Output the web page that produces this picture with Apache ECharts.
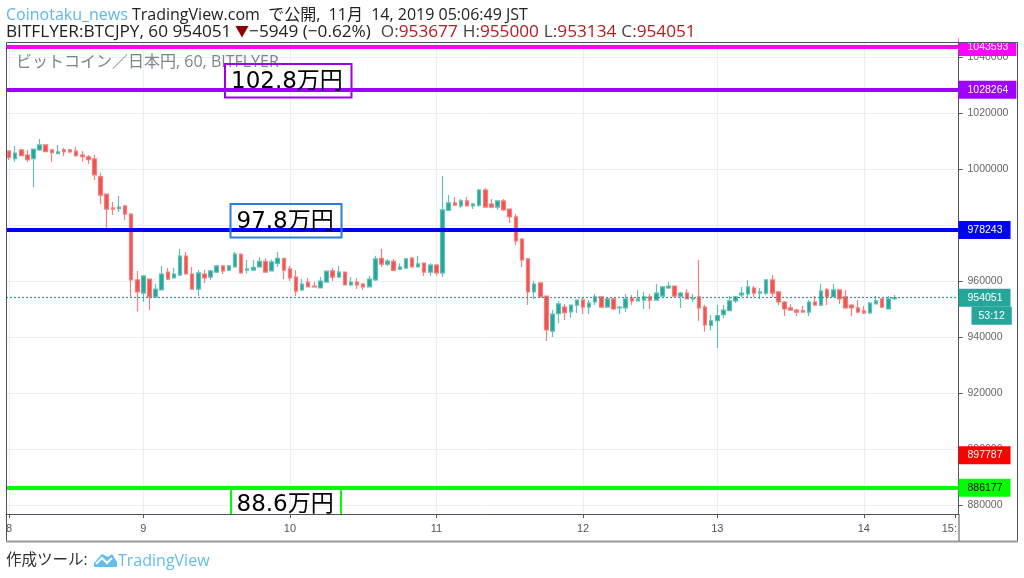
<!DOCTYPE html>
<html><head><meta charset="utf-8">
<style>html,body{margin:0;padding:0;background:#fff}#c{width:1024px;height:578px}</style>
<script src="https://cdn.jsdelivr.net/npm/echarts@6/dist/echarts.min.js"></script></head>
<body><div id="c"></div>
<script>
// open, close, low, high in thousand yen, one row per hour
const candles = [
[1006.4,1004.1,1003.2,1006.8],[1003.7,1005.7,1002.6,1008.2],[1006.8,1004.8,1004.6,1007.1],[1005.0,1003.3,1002.4,1006.8],
[1003.7,1007.1,993.5,1007.1],[1006.8,1008.6,1006.4,1010.7],[1008.6,1006.2,1006.1,1008.6],[1006.8,1005.8,1002.6,1006.8],
[1005.5,1006.1,1005.4,1008.6],[1006.8,1006.2,1004.6,1007.5],[1006.8,1006.1,1005.6,1007.1],[1006.4,1004.8,1004.3,1007.9],
[1005.0,1004.4,1002.6,1006.4],[1004.3,1003.3,1001.9,1005.0],[1003.6,997.9,996.1,1005.0],[997.3,990.7,987.5,998.7],
[991.0,985.7,978.9,991.0],[986.1,985.7,983.6,988.2],[985.8,986.4,984.6,990.4],[986.8,983.9,981.8,987.1],
[983.9,960.4,954.4,984.3],[960.4,956.1,949.1,963.6],[955.7,961.8,952.5,961.8],[960.7,954.3,949.6,960.7],
[954.3,957.1,954.3,958.9],[956.8,962.5,956.8,965.4],[963.2,960.7,960.4,964.6],[961.1,962.5,961.1,964.6],
[962.1,968.9,962.1,971.4],[968.9,962.5,962.5,970.4],[962.5,957.1,957.1,965.0],[957.1,962.9,954.6,963.9],
[962.5,961.1,959.3,963.9],[961.4,963.6,960.4,963.9],[963.2,965.4,962.9,965.7],[965.4,963.6,962.5,965.4],
[963.9,965.4,963.6,965.7],[965.0,969.6,964.8,970.4],[969.5,962.9,962.6,969.9],[963.9,964.3,962.7,967.5],
[963.9,964.9,963.9,967.5],[965.0,967.0,964.9,968.5],[967.0,963.2,963.2,968.1],[963.6,966.8,963.6,967.7],
[966.3,968.1,965.0,970.4],[968.1,963.9,960.7,968.1],[964.3,961.1,960.0,965.4],[961.4,956.4,954.6,963.9],
[956.8,958.9,956.4,960.7],[959.6,957.9,957.9,961.1],[958.2,957.9,957.9,959.6],[957.5,960.0,957.5,961.4],
[959.6,963.5,959.5,963.6],[963.6,961.4,960.0,964.6],[961.4,963.2,961.4,965.4],[963.2,958.6,958.5,963.3],
[958.6,959.6,958.2,961.4],[959.6,958.6,957.1,961.1],[958.9,957.9,956.8,959.3],[957.9,960.7,957.9,961.8],
[960.4,967.9,960.0,968.9],[968.1,966.0,965.0,971.4],[966.0,967.1,965.4,967.9],[967.0,963.8,963.6,967.9],
[964.2,965.0,963.9,966.3],[964.6,967.9,964.6,968.2],[968.2,965.0,964.9,968.6],[965.0,966.1,965.0,968.9],
[966.4,963.2,961.8,966.4],[963.2,965.7,961.8,966.3],[965.7,962.9,962.0,966.1],[962.9,985.4,961.4,997.5],
[985.2,987.9,985.0,990.7],[987.9,987.1,986.8,990.0],[986.8,988.6,986.1,989.3],[988.6,986.8,986.8,990.0],
[986.8,987.5,985.7,987.9],[987.1,992.5,986.4,992.9],[992.5,986.4,986.2,993.2],[987.5,986.4,986.0,989.3],
[986.4,988.6,985.4,988.6],[988.6,985.4,985.0,989.3],[985.7,982.9,980.7,985.7],[982.9,974.3,972.9,983.9],
[975.0,967.5,965.0,975.4],[967.9,956.1,951.4,968.2],[956.1,958.9,953.6,960.0],[959.3,954.3,954.2,959.4],
[954.6,942.5,938.6,954.6],[942.1,948.2,940.0,949.6],[948.3,951.8,944.9,952.9],[950.7,948.7,946.1,951.8],
[949.0,951.4,946.9,951.4],[951.4,953.2,948.6,953.2],[953.2,950.7,948.2,954.3],[950.7,952.1,948.2,953.2],
[952.5,954.3,951.4,955.4],[954.3,950.7,950.4,954.6],[950.7,953.6,950.7,953.9],[953.6,950.0,949.6,953.9],
[950.4,950.7,948.2,951.1],[950.4,953.6,948.9,955.4],[953.9,952.9,951.4,955.0],[952.9,953.6,952.9,956.8],
[953.2,954.3,950.0,956.1],[954.3,953.2,950.0,955.4],[953.2,955.7,953.2,958.9],[954.6,957.9,954.6,958.2],
[957.5,958.2,957.1,959.6],[958.2,954.6,954.6,958.3],[954.6,955.7,950.4,956.1],[955.7,953.6,953.6,957.1],
[953.6,953.9,952.5,955.4],[954.3,950.4,945.8,967.5],[950.7,944.3,941.9,951.4],[944.1,945.8,942.4,947.9],
[945.8,947.6,936.1,951.4],[948.0,949.6,946.8,951.4],[949.4,952.9,949.4,954.6],[952.9,954.3,952.1,954.6],
[955.0,955.7,954.3,957.9],[955.4,957.9,954.3,960.4],[957.5,955.7,954.3,958.2],[955.7,956.1,953.6,957.5],
[955.7,960.4,955.0,960.4],[960.4,955.7,954.3,962.1],[956.1,952.5,951.4,956.4],[952.5,950.0,947.5,952.9],
[950.4,949.6,949.6,951.8],[949.6,948.9,947.5,950.0],[949.4,948.9,948.9,951.1],[948.9,952.5,947.5,953.2],
[952.5,951.4,951.4,954.6],[951.4,956.4,951.1,958.9],[956.8,954.3,951.4,957.5],[954.3,956.8,954.3,958.9],
[956.8,953.6,951.8,956.8],[954.3,950.4,950.0,956.8],[951.4,950.4,947.5,951.8],[950.4,948.9,948.9,953.2],
[949.3,948.6,948.2,951.1],[948.6,952.1,948.2,952.5],[951.8,952.9,951.8,954.6],[953.6,950.7,950.4,953.6],
[950.0,953.6,950.0,954.6],[953.677,954.051,953.134,955.0]
];
const dayLabels = ['8','9','10','11','12','13','14','15:'];
const dayLabelIndex = [0,22,46,70,94,116,140,154];
const dayTickIndex = [0,22,46,70,94,116,140,155];
const barCount = 156;
const priceTicks = [880000,900000,920000,940000,960000,980000,1000000,1020000,1040000];
const priceLabels = [880000,900000,920000,940000,960000,1000000,1020000,1040000];
const levelValues = [1043593,1028264,978243,897787,886177];
const levelColors = ['#ff00ff','#a000ff','#0000ff','#ff0000','#00ff00'];
const levelTextColors = ['#ffffff','#ffffff','#ffffff','#ffffff','#000000'];
const levelLineWidths = [4,4,4,0,4];
const lastPrice = 954051;
const countdown = '53:12';
const notes = ['102.8万円','97.8万円','88.6万円'];

const categories = Array.from({length: barCount}, (_, i) => {
  const k = dayLabelIndex.indexOf(i);
  return k >= 0 ? dayLabels[k] : String(i);
});
const seriesData = candles.map(r => r.map(v => v * 1000));
const UP = '#26a69a', DOWN = '#ef5350';
const SANS = '"Open Sans", "Noto Sans CJK JP", sans-serif';
const AX = '"Liberation Sans", sans-serif';
const NOTE = '"DejaVu Sans", "Noto Sans CJK JP", sans-serif';
const GRID = '#e8eff5', DARK = '#50535e';
const N = 'normal';

function axisLabelBox(val, bg, fg, extra) {
  return Object.assign({
    show: true, position: 'end', distance: 0, formatter: String(val),
    backgroundColor: bg, color: fg, fontFamily: AX, fontSize: 10.5,
    padding: [3, 8, 3, 9], lineHeight: 12
  }, extra || {});
}
const levelLines = levelValues.map((v, i) => ({
  yAxis: v,
  lineStyle: {color: levelLineWidths[i] ? levelColors[i] : 'rgba(0,0,0,0)', width: levelLineWidths[i], type: 'solid', opacity: 1},
  label: axisLabelBox(v, levelColors[i], levelTextColors[i])
}));
const lastLine = {
  yAxis: lastPrice,
  lineStyle: {color: '#1f9e92', width: 1.2, type: [2, 2], opacity: 1},
  label: axisLabelBox(lastPrice, UP, '#fff')
};
const countdownLine = {
  yAxis: lastPrice,
  lineStyle: {color: 'rgba(0,0,0,0)', width: 0, opacity: 1},
  label: axisLabelBox(countdown, UP, '#fff', {offset: [13, 18], padding: [3, 7, 3, 7]})
};

const option = {
  animation: false,
  backgroundColor: '#fff',
  grid: {left: 6, right: 65.5, top: 42, bottom: 64, containLabel: false},
  title: [
    {left: 6, top: 7, padding: 0, text: '{a|Coinotaku_news}{b| TradingView.com  で公開,  11月  14, 2019 05:06:49 JST}',
     textStyle: {fontWeight: N, rich: {a: {fontFamily: SANS, fontSize: 16, fontWeight: N, color: '#5bb8e8'}, b: {fontFamily: SANS, fontSize: 16, fontWeight: N, color: '#222'}}}},
    {left: 6, top: 23, padding: 0, text: '{b|BITFLYER:BTCJPY, 60 954051}{t| ▼}{b|−5949 (−0.62%)}  {g|O:}{r|953677} {g|H:}{r|955000} {g|L:}{r|953134} {g|C:}{r|954051}',
     textStyle: {fontWeight: N, rich: {b: {fontFamily: SANS, fontSize: 17.2, fontWeight: N, color: '#222'}, t: {fontFamily: SANS, fontSize: 14, fontWeight: N, color: '#8b0000'},
       g: {fontFamily: SANS, fontSize: 17.2, fontWeight: N, color: '#444'}, r: {fontFamily: SANS, fontSize: 17.2, fontWeight: N, color: '#b71c1c'}}}},
    {left: 16, top: 54, padding: 0, text: 'ビットコイン／日本円, 60, BITFLYER',
     textStyle: {fontFamily: SANS, fontSize: 16, fontWeight: N, color: '#7d848c'}},
    {left: 6, top: 553, padding: 0, text: '作成ツール:',
     textStyle: {fontFamily: SANS, fontSize: 15.5, fontWeight: N, color: '#333'}},
    {left: 118, top: 553, padding: 0, text: 'TradingView',
     textStyle: {fontFamily: SANS, fontSize: 16, fontWeight: N, color: '#62bdec'}}
  ],
  xAxis: {
    type: 'category', data: categories, boundaryGap: true,
    axisLine: {show: true, lineStyle: {color: DARK, width: 1}},
    axisTick: {show: true, alignWithLabel: true, length: 4, lineStyle: {color: DARK},
      interval: i => dayTickIndex.includes(i)},
    axisLabel: {show: true, color: '#555', fontFamily: AX, fontSize: 11, margin: 9, hideOverlap: false,
      interval: i => dayLabelIndex.includes(i)},
    splitLine: {show: true, alignWithLabel: true, lineStyle: {color: GRID, width: 1},
      interval: i => dayTickIndex.includes(i) && i !== 155}
  },
  yAxis: {
    type: 'value', position: 'right', scale: true, min: 876786, max: 1045357,
    axisLine: {show: true, lineStyle: {color: DARK, width: 1}},
    axisTick: {show: true, length: 4, lineStyle: {color: DARK}, customValues: priceTicks},
    axisLabel: {show: true, color: '#666', fontFamily: AX, fontSize: 10.5, margin: 9, customValues: priceLabels,
      formatter: v => String(v), showMinLabel: true, showMaxLabel: true},
    splitLine: {show: true, lineStyle: {color: GRID, width: 1}}
  },
  series: [{
    type: 'candlestick', data: seriesData, barWidth: 4,
    itemStyle: {color: UP, color0: DOWN, borderColor: '#62bfb6', borderColor0: '#f47f7d', borderWidth: 1.2},
    markLine: {silent: true, symbol: 'none', animation: false, precision: 0,
      data: levelLines.concat([lastLine, countdownLine])}
  }],
  graphic: {elements: [
    {type: 'rect', z: 100, silent: true, shape: {x: 959, y: 28, width: 64, height: 14}, style: {fill: '#fff'}},
    {type: 'rect', z: 101, silent: true, shape: {x: 6.5, y: 42.5, width: 1011, height: 499}, style: {fill: 'none', stroke: DARK, lineWidth: 1}},
    {type: 'line', z: 101, silent: true, shape: {x1: 6, y1: 541.5, x2: 1018, y2: 541.5}, style: {stroke: '#999', lineWidth: 2}},
    {type: 'line', z: 101, silent: true, shape: {x1: 959, y1: 514, x2: 959, y2: 541}, style: {stroke: DARK, lineWidth: 1}},
    {type: 'rect', z: 60, silent: true, shape: {x: 225, y: 64, width: 126.5, height: 33.5}, style: {fill: 'none', stroke: '#a000e6', lineWidth: 2}},
    {type: 'text', z: 61, silent: true, style: {x: 231, y: 82, text: notes[0], fill: '#000', font: '23px ' + NOTE, verticalAlign: 'middle'}},
    {type: 'rect', z: 60, silent: true, shape: {x: 230.5, y: 204, width: 111, height: 33.5}, style: {fill: 'none', stroke: '#2a7fd8', lineWidth: 2}},
    {type: 'text', z: 61, silent: true, style: {x: 236.5, y: 222, text: notes[1], fill: '#000', font: '23px ' + NOTE, verticalAlign: 'middle'}},
    {type: 'line', z: 60, silent: true, shape: {x1: 231, y1: 487, x2: 231, y2: 514}, style: {stroke: '#00ff00', lineWidth: 2}},
    {type: 'line', z: 60, silent: true, shape: {x1: 341, y1: 487, x2: 341, y2: 514}, style: {stroke: '#00ff00', lineWidth: 2}},
    {type: 'text', z: 61, silent: true, style: {x: 236.5, y: 505, text: notes[2], fill: '#000', font: '23px ' + NOTE, verticalAlign: 'middle'}},
    {type: 'polygon', z: 60, silent: true, shape: {points: [[94, 567], [94, 563], [102, 554], [108, 557], [112, 554], [117, 562], [117, 567]]}, style: {fill: '#62bdec'}},
    {type: 'polyline', z: 61, silent: true, shape: {points: [[96, 564], [102, 558], [107, 563], [112, 558]]}, style: {fill: 'none', stroke: '#fff', lineWidth: 2}}
  ]}
};
const chart = echarts.init(document.getElementById('c'), null, {renderer: 'canvas'});
chart.setOption(option);
</script></body></html>
